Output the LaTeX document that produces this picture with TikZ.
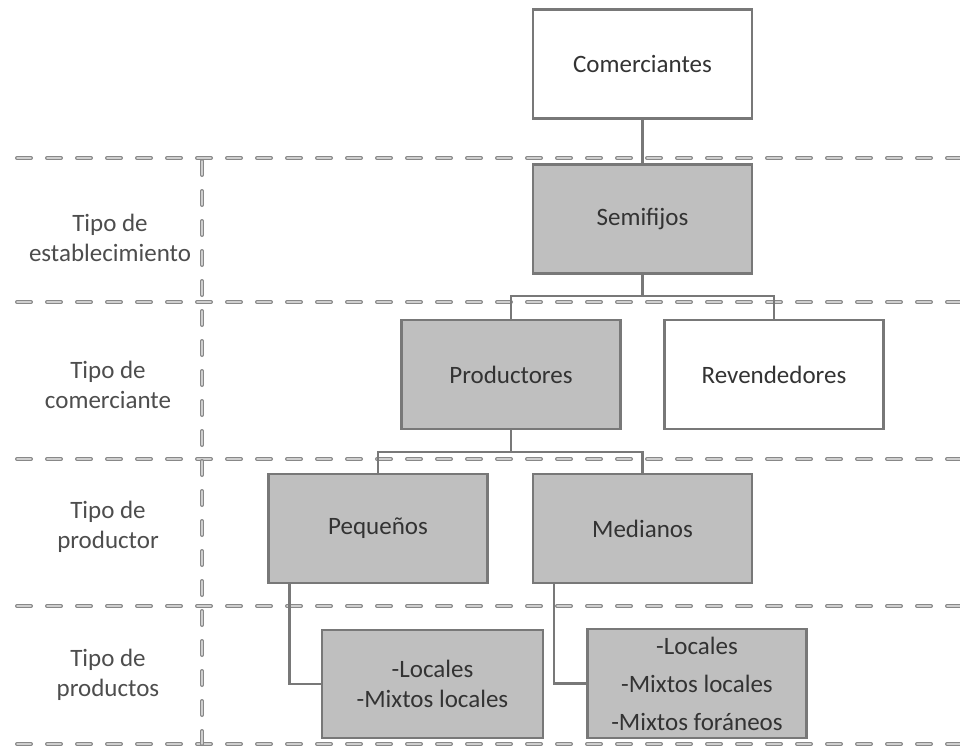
\documentclass[tikz,border=0pt]{standalone}
\usepackage{fontspec}
\setmainfont{Carlito}
\definecolor{boxline}{HTML}{787878}
\definecolor{boxfill}{HTML}{BFBFBF}
\definecolor{boxtext}{HTML}{333333}
\definecolor{labtext}{HTML}{4D4D4D}
\definecolor{sepout}{HTML}{888888}
\definecolor{sepin}{HTML}{CFCFCF}
\tikzset{
  box/.style={draw=boxline, line width=2.5pt, fill=white, text=boxtext,
    minimum width=219pt, minimum height=109pt, inner sep=0pt, align=center,
    font=\fontsize{25}{30}\selectfont},
  grey/.style={box, fill=boxfill},
  link/.style={draw=boxline, line width=2.5pt},
  sepline/.style={draw=sepout, line width=4pt, dash pattern=on 14pt off 16pt, line cap=round},
  sepcore/.style={draw=sepin, line width=1.4pt, dash pattern=on 14pt off 16pt, line cap=round},
  rowlabel/.style={text=labtext, align=center, font=\fontsize{25}{30}\selectfont}
}
\begin{document}
\begin{tikzpicture}[x=1pt, y=-1pt]
\useasboundingbox (0,0) rectangle (960,749);

% row separators
\foreach \yy in {158,302,459,606,744}{
  \draw[sepline] (17,\yy) -- (960,\yy);
  \draw[sepcore] (17,\yy) -- (960,\yy);
}
\draw[sepline] (202,161) -- (202,744);
\draw[sepcore] (202,161) -- (202,744);

% row labels
\node[rowlabel] (l1) at (110,238) {Tipo de\\establecimiento};
\node[rowlabel] (l2) at (108,385) {Tipo de\\comerciante};
\node[rowlabel] (l3) at (108,527) {Tipo de\\productor};
\node[rowlabel] (l4) at (108,675) {Tipo de\\productos};

% hierarchy boxes
\node[box]  (com)  at (642.5,64)   {Comerciantes};
\node[grey] (semi) at (642.5,219)  {Semifijos};
\node[grey] (prod) at (511,374.5)  {Productores};
\node[box]  (rev)  at (774,374.5)  {Revendedores};
\node[grey] (peq)  at (378,528.5)  {Pequeños};
\node[grey] (med)  at (642.5,528.5){Medianos};
\node[grey, minimum width=221pt, minimum height=108pt] (loc1) at (432.5,684)
  {-Locales\\-Mixtos locales};
\node[grey, font=\fontsize{25}{38}\selectfont] (loc2) at (697,683.5)
  {-Locales\\-Mixtos locales\\-Mixtos foráneos};

% junction points
\coordinate (j1) at (642.5,296);
\coordinate (j2) at (511,452);

% connectors
\draw[link] (com.south) -- (semi.north);
\draw[link] (semi.south) -- (j1);
\draw[link] (prod.north) |- (j1) -| (rev.north);
\draw[link] (prod.south) -- (j2);
\draw[link] (peq.north) |- (j2) -| (med.north);
\draw[link] ([xshift=22pt]peq.south west) |- (loc1.west);
\draw[link] ([xshift=22pt]med.south west) |- (loc2.west);
\end{tikzpicture}
\end{document}
